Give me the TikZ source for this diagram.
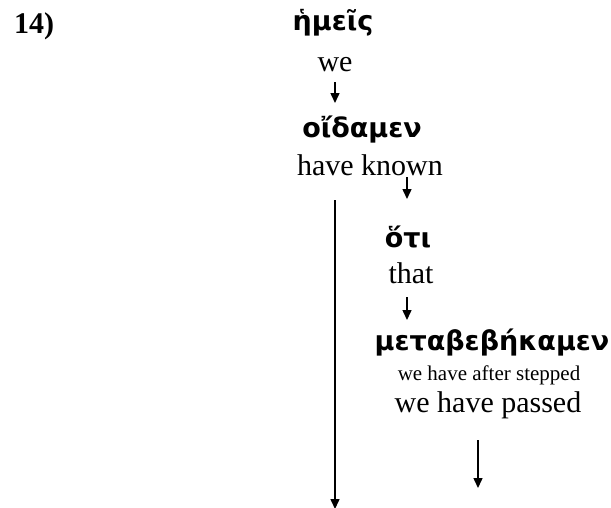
\documentclass[tikz,border=0pt]{standalone}
\usepackage{fontspec}
\setmainfont{Liberation Serif}
\newfontfamily\grk[Script=Greek]{DejaVu Sans}
\usetikzlibrary{arrows.meta,calc}
\begin{document}
\begin{tikzpicture}[x=1pt,y=-1pt,
  en/.style={font=\fontsize{30}{36}\selectfont, inner sep=0pt, anchor=base},
  gk/.style={font=\grk\bfseries\fontsize{27}{32}\selectfont, inner sep=0pt, anchor=base},
  sm/.style={font=\fontsize{21}{25}\selectfont, inner sep=0pt, anchor=base},
  arr/.style={line width=1.5pt, -{Triangle[length=10pt,width=9pt]}}]
\useasboundingbox (0,0) rectangle (611,507);
\node[en, font=\bfseries\fontsize{30}{36}\selectfont, anchor=base west] (num) at (14,33) {14)};
\node[gk] (hmeis) at (333,30) {ἡμεῖς};
\node[en] (we) at (335,71) {we};
\node[gk] (oid) at (362,137) {οἴδαμεν};
\node[en] (known) at (370,175) {have known};
\node[gk] (hoti) at (408,247) {ὅτι};
\node[en] (that) at (411,283) {that};
\node[gk] (meta) at (492,350) {μεταβεβήκαμεν};
\node[sm] (step) at (489,380) {we have after stepped};
\node[en] (passed) at (488,412) {we have passed};
\coordinate (bottom) at (335,509);
\coordinate (end5) at (478,488);
\draw[arr] ($(we.base)+(0,11)$) -- ($(oid.base)+(-27,-34)$);
\draw[arr] ($(known.base)+(37,2)$) -- ($(hoti.base)+(-1,-48)$);
\draw[arr] ($(known.base)+(-35,25)$) -- (bottom);
\draw[arr] ($(that.base)+(-4,14)$) -- ($(meta.base)+(-85,-30)$);
\draw[arr] ($(passed.base)+(-10,28)$) -- (end5);
\end{tikzpicture}
\end{document}
